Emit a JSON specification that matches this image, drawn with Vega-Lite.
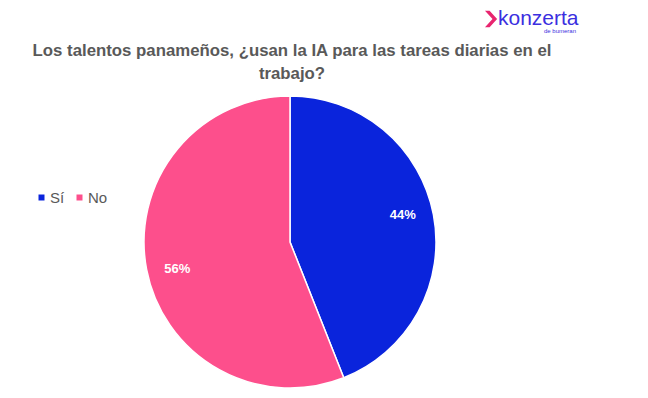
{
  "$schema": "https://vega.github.io/schema/vega-lite/v6.json",
  "width": 580,
  "height": 312,
  "autosize": "none",
  "padding": {"left": 0, "top": 86, "right": 68, "bottom": 0},
  "background": "white",
  "config": {"view": {"stroke": null}, "font": "Liberation Sans"},
  "data": {"values": [
    {"respuesta": "Sí", "valor": 0.44},
    {"respuesta": "No", "valor": 0.56}
  ]},
  "resolve": {"scale": {"theta": "independent"}},
  "layer": [
    {
      "mark": {"type": "arc", "outerRadius": 146, "stroke": "white", "strokeWidth": 1.5},
      "encoding": {
        "theta": {"field": "valor", "type": "quantitative", "stack": true},
        "order": {"field": "valor", "type": "quantitative", "sort": "ascending"},
        "color": {
          "field": "respuesta",
          "type": "nominal",
          "scale": {"domain": ["Sí", "No"], "range": ["#0A24DC", "#FD4F8C"]},
          "legend": {
            "orient": "none",
            "legendX": 34,
            "legendY": 104,
            "direction": "horizontal",
            "title": null,
            "gridAlign": "none",
            "symbolType": "square",
            "symbolSize": 36,
            "symbolStrokeWidth": 0,
            "labelFontSize": 15,
            "labelColor": "#595959",
            "labelFont": "Liberation Sans",
            "columnPadding": 7,
            "labelOffset": 1
          }
        }
      }
    },
    {
      "mark": {"type": "text", "radius": 116, "fontSize": 13, "fontWeight": "bold", "color": "white", "font": "Liberation Sans"},
      "encoding": {
        "theta": {"field": "valor", "type": "quantitative", "stack": true, "scale": {"range": [-0.05, 6.2332]}},
        "order": {"field": "valor", "type": "quantitative", "sort": "ascending"},
        "text": {"field": "valor", "type": "quantitative", "format": ".0%"},
        "detail": {"field": "respuesta"}
      }
    },
    {
      "data": {"values": [{"t": ["Los talentos panameños, ¿usan la IA para las tareas diarias en el", "trabajo?"]}]},
      "mark": {"type": "text", "align": "center", "baseline": "alphabetic", "fontSize": 16.8, "fontWeight": "bold", "font": "Liberation Sans", "color": "#595959", "lineHeight": 23, "x": 292, "y": -30},
      "encoding": {"text": {"field": "t"}}
    },
    {
      "data": {"values": [{"t": "konzerta"}]},
      "mark": {"type": "text", "align": "left", "baseline": "alphabetic", "fontSize": 21, "font": "Liberation Sans", "color": "#3B2FE0", "x": 498, "y": -61},
      "encoding": {"text": {"field": "t"}}
    },
    {
      "data": {"values": [{"t": "de bumeran"}]},
      "mark": {"type": "text", "align": "right", "baseline": "alphabetic", "fontSize": 6, "font": "Liberation Sans", "color": "#3B2FE0", "x": 576, "y": -53},
      "encoding": {"text": {"field": "t"}}
    },
    {
      "data": {"values": [{"t": "logo"}]},
      "mark": {"type": "point", "filled": true, "shape": "M-0.6,-1 L0.3,0 L-0.6,1 L-0.05,1 L0.85,0 L-0.05,-1 Z", "size": 280, "color": "#E8256F", "opacity": 1, "x": 490, "y": -67},
      "encoding": {}
    }
  ]
}
